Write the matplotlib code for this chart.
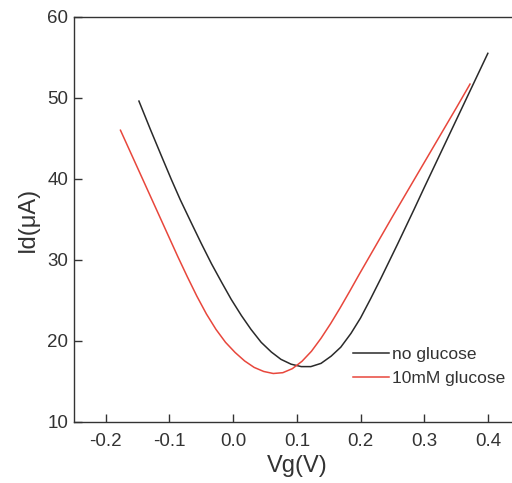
import matplotlib
matplotlib.use("Agg")
import matplotlib.pyplot as plt

plt.rcParams['font.family'] = ['Liberation Sans', 'DejaVu Sans']

# Transfer curves: drain current vs gate voltage
vg_no_glucose = [-0.148, -0.130, -0.112, -0.097, -0.083, -0.066, -0.050, -0.034,
                 -0.018, -0.003, 0.013, 0.028, 0.044, 0.060, 0.075, 0.091,
                 0.107, 0.122, 0.138, 0.154, 0.169, 0.185, 0.200, 0.216,
                 0.232, 0.258, 0.284, 0.300, 0.350, 0.400]
id_no_glucose = [49.6, 46.1, 42.7, 39.9, 37.4, 34.6, 32.0, 29.5,
                 27.2, 25.1, 23.1, 21.4, 19.8, 18.6, 17.7, 17.1,
                 16.8, 16.8, 17.2, 18.1, 19.2, 20.9, 22.8, 25.2,
                 27.7, 31.9, 36.2, 38.9, 47.2, 55.5]

vg_glucose = [-0.177, -0.162, -0.147, -0.132, -0.117, -0.102, -0.087, -0.072,
              -0.057, -0.042, -0.027, -0.012, 0.003, 0.018, 0.033, 0.048,
              0.063, 0.078, 0.093, 0.108, 0.123, 0.138, 0.153, 0.168,
              0.183, 0.198, 0.220, 0.250, 0.300, 0.350, 0.372]
id_glucose = [46.0, 43.4, 40.8, 38.2, 35.6, 33.0, 30.4, 27.9,
              25.5, 23.3, 21.4, 19.8, 18.55, 17.5, 16.7, 16.2,
              15.95, 16.05, 16.55, 17.45, 18.7, 20.3, 22.1, 24.05,
              26.1, 28.2, 31.2, 35.3, 42.0, 48.7, 51.7]

labels = ["no glucose", "10mM glucose"]
x_ticks = [-0.2, -0.1, 0.0, 0.1, 0.2, 0.3, 0.4]
y_ticks = [10, 20, 30, 40, 50, 60]

ink = "#333333"
fig = plt.figure(figsize=(5.12, 4.83), dpi=100)
ax = fig.add_axes([0.1445, 0.127, 0.8705, 0.838])

ax.plot(vg_no_glucose, id_no_glucose, color="#2a2a2a", lw=1.1, label=labels[0])
ax.plot(vg_glucose, id_glucose, color="#e8473c", lw=1.1, label=labels[1])

ax.set_xlim(-0.25, 0.45)
ax.set_ylim(10, 60)
ax.set_xticks(x_ticks)
ax.set_xticklabels([f"{t:.1f}" for t in x_ticks])
ax.set_yticks(y_ticks)

for s in ax.spines.values():
    s.set_color(ink)
    s.set_linewidth(1.0)

ax.tick_params(direction="in", length=5.8, width=1.0, color=ink,
               labelcolor=ink, labelsize=13.5)
ax.tick_params(axis="x", pad=8)
ax.tick_params(axis="y", pad=4)

ax.set_xlabel("Vg(V)", fontsize=17, color=ink, labelpad=4)
ax.set_ylabel("Id(\u03bcA)", fontsize=17, color=ink, labelpad=6)

ax.legend(loc="upper left", bbox_to_anchor=(0.626, 0.185), frameon=False,
          fontsize=12.5, handlelength=2.1, handletextpad=0.15,
          labelspacing=0.53, borderpad=0, borderaxespad=0, labelcolor=ink)

fig.savefig("out.png", dpi=100)
